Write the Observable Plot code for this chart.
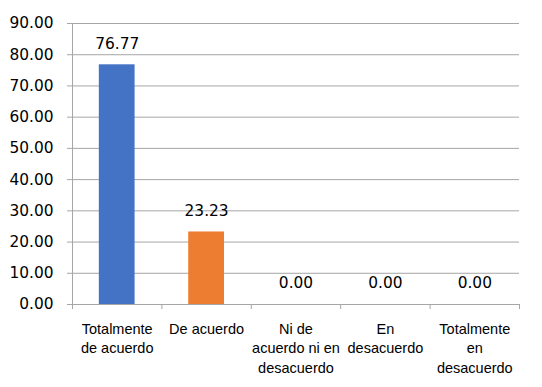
<!DOCTYPE html>
<html><head><meta charset="utf-8">
<script src="https://cdn.jsdelivr.net/npm/d3@7"></script>
<script src="https://cdn.jsdelivr.net/npm/@observablehq/plot@0.6"></script>
<style>html,body{margin:0;padding:0;background:#fff}</style>
</head><body><div id="chart"></div>
<script>
const categories = [
  "Totalmente\nde acuerdo",
  "De acuerdo",
  "Ni de\nacuerdo ni en\ndesacuerdo",
  "En\ndesacuerdo",
  "Totalmente\nen\ndesacuerdo"
];
const values = [76.77, 23.23, 0.00, 0.00, 0.00];
const colors = ["#4472C4", "#ED7D31", "#A5A5A5", "#FFC000", "#5B9BD5"];
const yTicks = [0, 10, 20, 30, 40, 50, 60, 70, 80, 90];

const data = categories.map((c, i) => ({c, i, v: values[i], color: colors[i]}));
const bounds = d3.range(categories.length + 1);
const grid = "#a6a6a6";
const numFont = "DejaVu Sans";

const chart = Plot.plot({
  width: 542, height: 387,
  marginLeft: 72, marginRight: 23, marginTop: 23, marginBottom: 83,
  style: {fontFamily: numFont, fontSize: "15.4px", background: "#fff", color: "#000"},
  x: {type: "linear", domain: [0, categories.length], axis: null},
  y: {domain: [0, 90], axis: null},
  color: {type: "identity"},
  marks: [
    Plot.ruleY(yTicks, {stroke: grid, strokeWidth: 1}),
    Plot.ruleX([0], {stroke: grid, strokeWidth: 1}),
    Plot.axisY({ticks: yTicks, tickSize: 5, tickPadding: 14, tickFormat: d => d.toFixed(2),
      label: null, stroke: grid, fill: "#000", fontSize: 15.4, fontFamily: numFont}),
    Plot.axisX({ticks: bounds, tickSize: 5, tickFormat: () => "", label: null, stroke: grid}),
    Plot.rectY(data, {x1: d => d.i + 0.3, x2: d => d.i + 0.7, y: "v", fill: "color"}),
    Plot.text(data, {x: d => d.i + 0.5, y: "v", text: d => d.v.toFixed(2), dy: -21,
      fill: "#000", fontSize: 15.4, fontFamily: numFont}),
    Plot.text(data, {x: d => d.i + 0.5, y: 0, text: "c", lineAnchor: "top", dy: 16,
      fill: "#000", fontSize: 14.5, fontFamily: "Liberation Sans", lineHeight: 1.33})
  ]
});
document.getElementById("chart").appendChild(chart);
</script>
</body></html>
